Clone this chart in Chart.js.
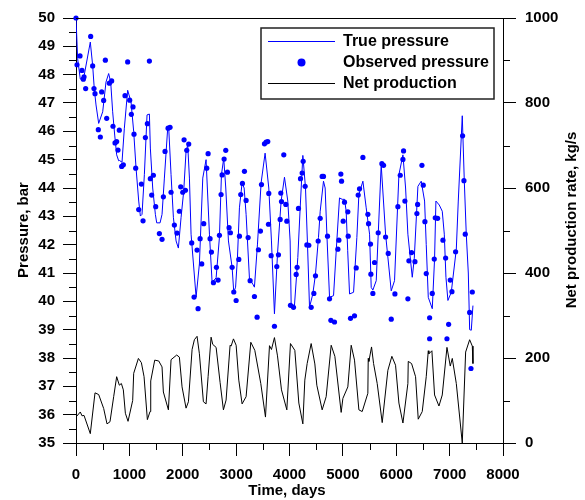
<!DOCTYPE html>
<html><head><meta charset="utf-8">
<script src="https://cdn.jsdelivr.net/npm/chart.js@4.4.1/dist/chart.umd.min.js"></script>
<style>html,body{margin:0;padding:0;background:#fff}#wrap{width:585px;height:500px}</style>
</head><body><div id="wrap"><canvas id="c" width="585" height="500"></canvas></div>
<script>
const FONT = "'Liberation Sans', Arial, Helvetica, sans-serif";

// ---- data ----
const truePressureDays = [0,31,81,125,140,268,312,343,375,425,500,562,612,650,687,725,762,800,815,862,906,968,1031,1081,1125,1175,1206,1237,1281,1331,1375,1393,1437,1487,1512,1575,1612,1656,1718,1737,1781,1825,1875,1918,1968,2018,2062,2093,2125,2156,2250,2312,2375,2437,2500,2550,2625,2687,2725,2768,2806,2856,2925,2956,2990,3025,3062,3112,3150,3187,3250,3312,3343,3400,3468,3543,3612,3662,3718,3775,3843,3906,3968,4012,4031,4093,4156,4200,4250,4300,4337,4375,4437,4487,4543,4575,4637,4668,4700,4750,4825,4875,4937,4987,5031,5062,5090,5125,5200,5262,5300,5375,5437,5500,5531,5562,5625,5718,5800,5906,5968,6050,6125,6175,6218,6300,6337,6406,6468,6531,6562,6600,6675,6718,6743,6806,6862,6900,6931,6968,7031,7125,7162,7237,7275,7312,7350,7375,7406,7437];
const truePressureBar = [50,48.56,47.84,47.92,47.84,49.15,48.33,47.49,46.93,46.28,46.69,47.74,48.04,47.74,46.69,45.87,45.17,44.96,44.97,44.91,46.11,47.45,47.04,45.99,44.70,43.54,43.01,43.07,44.47,46.58,46.61,45.41,44.0,43.07,42.77,42.77,43.07,44.35,46.11,46.12,44.47,42.95,42.13,41.88,42.95,43.89,45.29,45.52,44.35,42.37,40.15,41.32,44.35,45.0,42.37,40.67,40.83,42.25,44.47,45.05,44.0,42.13,41.2,40.32,40.5,41.55,43.3,44.18,44.0,43.07,40.79,40.61,40.5,42.02,44.18,45.23,44.0,42.13,39.56,41.67,43.54,44.38,43.54,42.13,39.91,39.85,41.55,43.3,45.15,44.0,42.02,39.79,40.26,40.96,42.25,43.18,44.24,44.0,42.37,40.14,40.2,41.78,43.65,43.6,43.6,43.18,41.8,40.26,40.32,42.25,43.77,44.24,43.3,42.37,40.49,40.4,40.73,44.82,42.37,40.37,40.73,44.47,45.17,44.0,42.37,40.85,41.5,44.06,44.24,43.54,42.0,40.14,39.74,41.5,43.54,43.4,43.18,42.37,40.85,40.03,40.32,41.84,43.54,46.55,44.24,42.37,41.0,39.0,38.98,39.85];

const observedDays = [0,19,75,112,137,150,181,275,312,337,356,418,456,481,518,550,575,625,668,693,731,762,787,812,856,887,918,968,1006,1037,1068,1087,1118,1175,1225,1256,1300,1337,1375,1393,1418,1450,1493,1562,1612,1637,1668,1725,1762,1781,1843,1893,1937,1962,2000,2025,2050,2075,2112,2168,2212,2268,2287,2325,2356,2393,2450,2475,2512,2537,2575,2631,2662,2687,2718,2737,2775,2806,2837,2868,2893,2925,2956,3000,3050,3062,3087,3118,3156,3187,3225,3262,3343,3393,3418,3456,3475,3531,3562,3593,3606,3612,3656,3718,3762,3793,3825,3837,3850,3893,3931,3950,4018,4075,4125,4143,4168,4206,4237,4256,4293,4325,4362,4406,4456,4487,4537,4575,4612,4637,4712,4750,4775,4843,4906,4925,4962,4975,5006,5031,5093,5100,5143,5218,5250,5287,5312,5375,5468,5481,5518,5525,5562,5593,5662,5731,5762,5800,5850,5906,5975,6031,6075,6125,6137,6162,6218,6237,6287,6350,6387,6400,6481,6506,6537,6562,6625,6625,6675,6712,6731,6775,6875,6925,6950,6981,7012,7043,7112,7243,7268,7293,7375,7400,7425];
const observedBar = [50.0,48.35,48.66,48.15,47.84,47.92,47.51,49.35,48.31,47.51,47.33,46.06,45.80,47.39,47.09,48.51,46.46,47.70,47.78,46.18,45.59,45.64,45.34,46.04,44.76,44.82,47.26,48.45,47.10,46.60,46.86,45.90,44.70,43.24,44.14,42.84,45.78,46.27,48.48,44.33,43.75,44.45,43.34,42.39,42.19,43.69,45.29,46.11,46.14,43.85,42.69,42.41,43.18,44.04,43.85,45.70,43.92,45.33,45.55,42.06,40.15,41.81,39.74,42.21,41.32,42.74,44.70,45.21,42.21,41.74,40.66,41.2,40.75,42.33,43.77,44.46,45.02,45.33,44.56,42.60,42.42,41.2,40.33,40.03,41.48,42.30,43.77,44.16,44.59,43.56,42.25,40.73,40.17,39.44,41.82,42.48,44.12,45.56,45.62,45.64,42.72,43.81,41.61,39.12,41.23,41.64,42.89,43.82,43.52,45.17,43.42,42.83,39.86,39.79,40.95,41.20,43.28,44.33,44.53,44.94,44.06,41.99,41.98,39.79,40.28,40.90,42.13,42.93,44.41,44.41,42.30,40.09,39.33,39.27,41.84,42.16,44.49,44.24,42.83,43.50,43.16,42.30,39.40,39.49,41.18,43.75,43.97,45.08,43.07,42.74,42.02,40.96,40.28,41.37,42.42,44.86,44.80,42.27,41.69,39.37,40.26,43.34,44.45,45.01,45.31,43.54,40.09,41.43,41.72,41.40,43.10,43.42,44.80,44.10,42.81,40.98,39.42,38.68,40.28,41.49,42.95,42.93,42.16,41.53,38.68,39.19,40.75,40.34,41.75,45.84,44.26,42.37,39.61,37.63,40.33];

const productionDays = [0,81,112,150,268,356,425,519,581,637,706,762,812,850,887,925,975,1062,1081,1169,1225,1275,1337,1387,1400,1475,1550,1612,1637,1731,1781,1887,1937,1987,2062,2106,2175,2218,2268,2312,2387,2437,2475,2531,2562,2625,2700,2762,2812,2887,2906,2950,3000,3050,3112,3187,3275,3350,3462,3550,3625,3662,3718,3775,3850,3950,4018,4100,4175,4250,4287,4331,4406,4475,4512,4612,4687,4781,4850,4968,5000,5093,5156,5218,5300,5362,5468,5475,5487,5537,5575,5643,5737,5843,5918,5987,6050,6125,6218,6225,6287,6362,6412,6487,6562,6600,6612,6668,6718,6800,6862,6950,7012,7050,7125,7237,7300,7375,7425,7437];
const productionRate = [61,73,64,65,22,118,114,81,45,50,109,156,136,140,125,70,51,100,164,199,189,156,55,74,146,195,193,179,120,78,196,207,202,132,82,97,220,243,251,210,97,92,156,249,232,225,142,78,101,230,228,245,230,148,92,109,237,218,140,61,229,220,248,205,125,78,234,218,94,45,148,187,234,186,136,78,109,230,204,72,105,132,230,195,78,74,117,199,192,226,187,140,48,171,204,183,94,47,140,192,187,156,56,74,156,217,210,217,113,87,113,225,181,199,140,0,214,243,228,187];

const seriesNames = ['True pressure','Observed pressure','Net production'];
const xTicks = {min:0, max:8000, step:1000, minorStep:500};
const yTicks = {min:35, max:50, step:1};
const y2Ticks = {min:0, max:1000, step:200};
const axisTitles = {x:'Time, days', y:'Pressure, bar', y2:'Net production rate, kg/s'};

const pts = (xs, ys) => xs.map((v,i)=>({x:v, y:ys[i]}));
const BLUE = '#0000ff';

const extras = {
  id:'extras',
  afterDraw(chart){
    const ctx = chart.ctx; const ca = chart.chartArea;
    const L=ca.left, R=ca.right, T=ca.top, B=ca.bottom;
    ctx.save();
    ctx.strokeStyle='#000'; ctx.lineWidth=1;
    const ln=(x1,y1,x2,y2)=>{ctx.beginPath();ctx.moveTo(x1,y1);ctx.lineTo(x2,y2);ctx.stroke();};
    ln(L, Math.round(T)+0.5, R, Math.round(T)+0.5);
    const xs=chart.scales.x, ys=chart.scales.y, y2=chart.scales.y2;
    for(let v=xTicks.minorStep; v<xTicks.max; v+=xTicks.step){const p=Math.round(xs.getPixelForValue(v))+0.5; ln(p,B,p,B+7);}
    for(let v=yTicks.min+yTicks.step/2; v<yTicks.max; v+=yTicks.step){const p=Math.round(ys.getPixelForValue(v))+0.5; ln(L-7,p,L,p);}
    for(let v=y2Ticks.min+y2Ticks.step/2; v<y2Ticks.max; v+=y2Ticks.step){const p=Math.round(y2.getPixelForValue(v))+0.5; ln(R,p,R+7,p);}
    // axis titles
    ctx.fillStyle='#000'; ctx.font='bold 15px '+FONT; ctx.textAlign='center'; ctx.textBaseline='middle';
    ctx.fillText(axisTitles.x, 287, 491);
    ctx.save(); ctx.translate(24, 230); ctx.rotate(-Math.PI/2); ctx.fillText(axisTitles.y,0,0); ctx.restore();
    ctx.save(); ctx.translate(572, 220); ctx.rotate(-Math.PI/2); ctx.fillText(axisTitles.y2,0,0); ctx.restore();
    // legend
    ctx.fillStyle='#fff'; ctx.fillRect(261,28,233,71);
    ctx.strokeStyle='#222'; ctx.lineWidth=1.5; ctx.strokeRect(261,28,233,71);
    const ds=chart.data.datasets;
    ctx.lineWidth=1;
    ctx.strokeStyle=ds[0].borderColor; ln(268,41.5,335,41.5);
    ctx.fillStyle=ds[1].backgroundColor; ctx.beginPath(); ctx.arc(301.5,62.5,4,0,Math.PI*2); ctx.fill();
    ctx.strokeStyle=ds[2].borderColor; ln(268,83.5,335,83.5);
    ctx.fillStyle='#000'; ctx.font='bold 16px '+FONT; ctx.textAlign='left';
    ctx.fillText(ds[0].label,343,42);
    ctx.fillText(ds[1].label,343,63);
    ctx.fillText(ds[2].label,343,84);
    ctx.restore();
  }
};

const tickFont = {family:FONT, size:15, weight:'bold'};
new Chart(document.getElementById('c'), {
  type:'line',
  data:{datasets:[
    {label:seriesNames[0], data:pts(truePressureDays,truePressureBar), borderColor:BLUE, borderWidth:1, pointRadius:0, tension:0, yAxisID:'y'},
    {label:seriesNames[1], data:pts(observedDays,observedBar), showLine:false, pointRadius:2.6, pointBackgroundColor:BLUE, backgroundColor:BLUE, borderColor:BLUE, pointBorderWidth:0, yAxisID:'y', clip:false},
    {label:seriesNames[2], data:pts(productionDays,productionRate), borderColor:'#000', borderWidth:1, pointRadius:0, tension:0, yAxisID:'y2'}
  ]},
  options:{
    responsive:false, animation:false, events:[],
    layout:{padding:{top:16,left:0,right:0,bottom:0}},
    plugins:{legend:{display:false}, tooltip:{enabled:false}},
    scales:{
      x:{type:'linear', position:'bottom', min:xTicks.min, max:xTicks.max,
         ticks:{stepSize:xTicks.step, callback:v=>String(v), font:tickFont, color:'#000', padding:10, maxRotation:0, autoSkip:false},
         grid:{drawOnChartArea:false, tickLength:13, color:'#000', tickColor:'#000'},
         border:{color:'#000', width:1},
         afterFit(s){s.height=57;}},
      y:{type:'linear', position:'left', min:yTicks.min, max:yTicks.max,
         ticks:{stepSize:yTicks.step, callback:v=>String(v), font:tickFont, color:'#000', padding:8, autoSkip:false},
         grid:{drawOnChartArea:false, tickLength:13, color:'#000', tickColor:'#000'},
         border:{color:'#000', width:1},
         afterFit(s){s.width=76;}},
      y2:{type:'linear', position:'right', min:y2Ticks.min, max:y2Ticks.max,
         ticks:{stepSize:y2Ticks.step, callback:v=>String(v), font:tickFont, color:'#000', padding:9, autoSkip:false},
         grid:{drawOnChartArea:false, tickLength:13, color:'#000', tickColor:'#000'},
         border:{color:'#000', width:1},
         afterFit(s){s.width=82;}}
    }
  },
  plugins:[extras]
});
</script></body></html>
